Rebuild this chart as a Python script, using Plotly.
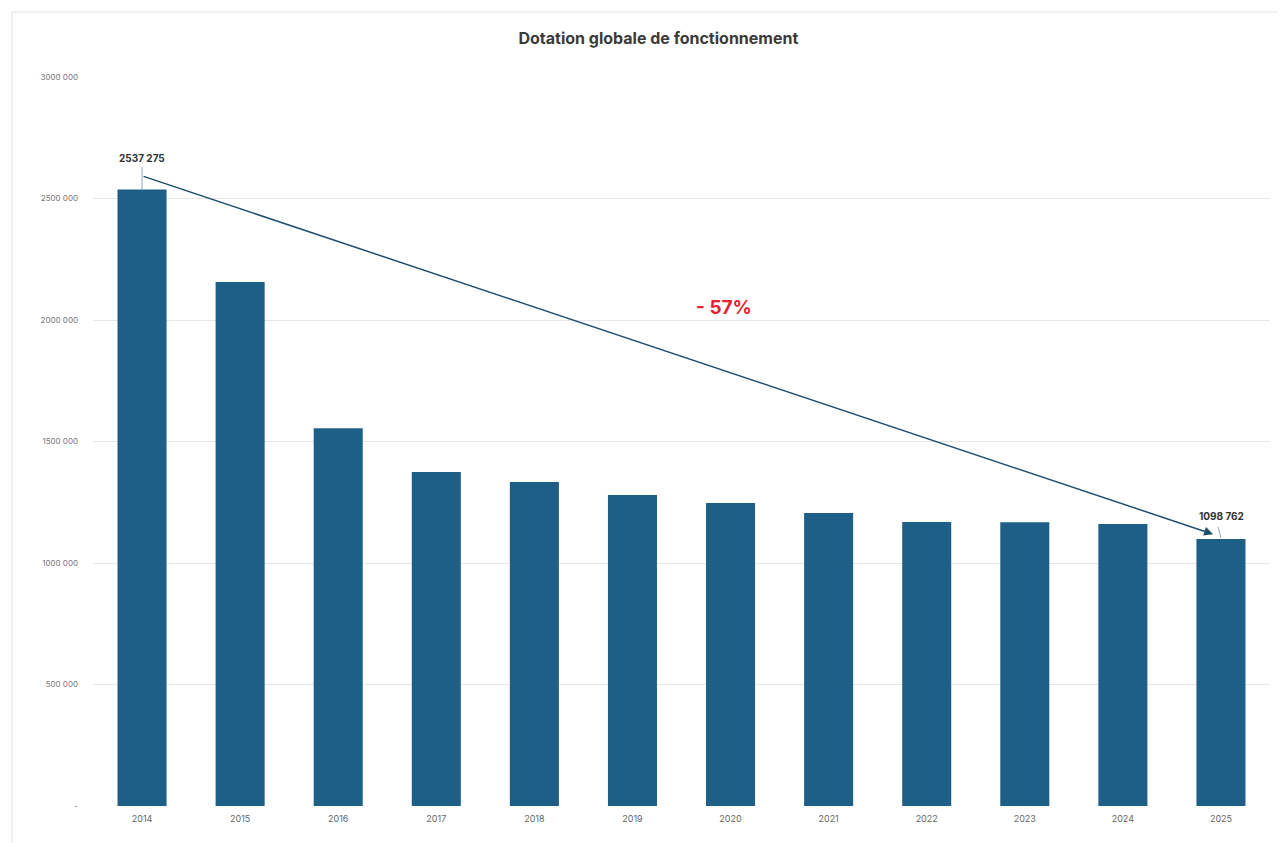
import plotly.graph_objects as go

years = ["2014", "2015", "2016", "2017", "2018", "2019", "2020", "2021", "2022", "2023", "2024", "2025"]
dgf = [2537275, 2156000, 1555000, 1374000, 1333000, 1280000, 1247000, 1206000, 1169000, 1168000, 1160000, 1098762]
y_ticks = [0, 500000, 1000000, 1500000, 2000000, 2500000, 3000000]
y_ticktext = ["-", "500 000", "1000 000", "1500 000", "2000 000", "2500 000", "3000 000"]
title = "Dotation globale de fonctionnement"
change_label = "- 57%"


def fmt(v):
    s = f"{v:,}".replace(",", " ")
    parts = s.split(" ")
    if len(parts) >= 3:
        s = "".join(parts[:-1]) + " " + parts[-1]
    return s


idx = list(range(len(years)))

fig = go.Figure()
fig.add_trace(go.Bar(
    x=idx, y=dgf,
    marker=dict(color="#1e5f87", line=dict(width=0)),
    hovertext=years, hoverinfo="text+y",
))

first, last = 0, len(years) - 1
fig.add_annotation(x=first, y=dgf[first] * 1.051, text="<b>" + fmt(dgf[first]) + "</b>",
                   xref="x", yref="y",
                   showarrow=False, font=dict(size=10, color="#333333", family="Inter"))
fig.add_shape(type="line", x0=first, x1=first, y0=dgf[first], y1=dgf[first] * 1.036,
              xref="x", yref="y", line=dict(color="#8fa8b8", width=1))
fig.add_annotation(x=last + 0.01, y=dgf[last] * 1.086, text="<b>" + fmt(dgf[last]) + "</b>",
                   xref="x", yref="y",
                   showarrow=False, font=dict(size=10, color="#333333", family="Inter"))
fig.add_shape(type="line", x0=last - 0.03, x1=last, y0=dgf[last] * 1.045, y1=dgf[last] * 1.004,
              xref="x", yref="y", line=dict(color="#8fa8b8", width=1))

# trend arrow
fig.add_annotation(x=last - 0.08, y=dgf[last] * 1.018, ax=first, ay=dgf[first] * 1.022,
                   xref="x", yref="y", axref="x", ayref="y",
                   showarrow=True, arrowhead=2, arrowsize=1.2, arrowwidth=1.5,
                   arrowcolor="#1e4f6e", text="")

fig.add_annotation(x=5.93, y=2053000, xref="x", yref="y", text="<b>" + change_label + "</b>",
                   showarrow=False, font=dict(size=19, color="#e8212e", family="Inter"))

# frame
fig.add_shape(type="rect", xref="paper", yref="paper",
              x0=-0.0688, x1=1.0110, y0=-0.07, y1=1.089,
              line=dict(color="#e3e3e3", width=1), fillcolor="rgba(0,0,0,0)", layer="below")

fig.update_layout(
    width=1277, height=835,
    margin=dict(l=85, r=15, t=69, b=37),
    paper_bgcolor="white", plot_bgcolor="white",
    title=dict(text="<b>" + title + "</b>", x=0.5093, xanchor="center", y=0.963, yanchor="middle",
               font=dict(size=16, color="#3a3a3a", family="Inter")),
    bargap=0.5,
    showlegend=False,
    font=dict(family="Inter", color="#666666"),
)
fig.update_xaxes(range=[-0.5, len(years) - 0.5], tickvals=idx, ticktext=years,
                 showgrid=False, showline=False, ticks="", zeroline=False,
                 tickfont=dict(size=9, color="#666666"), ticklabelstandoff=6)
fig.update_yaxes(range=[0, 3000000], tickvals=y_ticks, ticktext=y_ticktext,
                 showgrid=True, gridcolor="#e6e6e6", gridwidth=1, zeroline=False,
                 tickfont=dict(size=8, color="#777777"), ticklabelstandoff=14)

fig.write_html("out.html")
